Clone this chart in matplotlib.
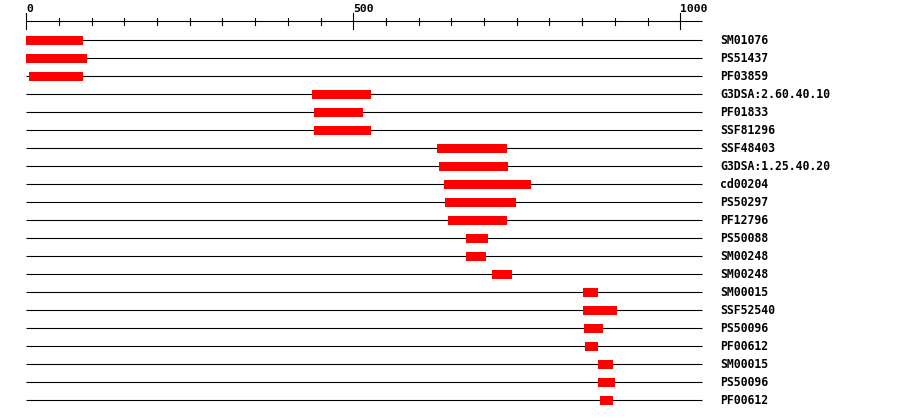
import matplotlib
matplotlib.use("Agg")
import matplotlib.pyplot as plt

labels = ["SM01076", "PS51437", "PF03859", "G3DSA:2.60.40.10", "PF01833", "SSF81296",
          "SSF48403", "G3DSA:1.25.40.20", "cd00204", "PS50297", "PF12796", "PS50088",
          "SM00248", "SM00248", "SM00015", "SSF52540", "PS50096", "PF00612",
          "SM00015", "PS50096", "PF00612"]
starts = [0, 0, 4, 437, 440, 440, 628, 631, 639, 640, 645, 672, 672, 712,
          851, 851, 853, 854, 874, 874, 877]
ends = [86, 93, 86, 527, 515, 527, 735, 737, 772, 749, 735, 706, 703, 743,
        874, 903, 882, 874, 897, 900, 897]
seq_length = 1033
major_ticks = [0, 500, 1000]
minor_step = 50

W, H = 900, 418
fig = plt.figure(figsize=(W / 100, H / 100), dpi=100)
ax = fig.add_axes([0, 0, 1, 1])
px_per_unit = (680.3 - 26.3) / 1000.0
x0 = -26.3 / px_per_unit
x1 = (W - 26.3) / px_per_unit
ax.set_xlim(x0, x1)
# rows at pixel y = 40 + 18*i
ax.set_ylim((H - 40) / 18.0, -40 / 18.0)
ax.axis("off")

lw = 1.1 * 72 / 100
row_h = 9 / 18.0
for i, (lab, s, e) in enumerate(zip(labels, starts, ends)):
    ax.plot([0, seq_length], [i, i], color="black", lw=lw, solid_capstyle="butt")
    ax.add_patch(plt.Rectangle((s, i - row_h / 2), e - s, row_h, facecolor="#ff0000",
                               edgecolor="none", zorder=3))
    ax.text(seq_length + (720 - 701.7) / px_per_unit, i, lab, ha="left", va="center",
            fontsize=8.3, fontweight="bold", family="DejaVu Sans Mono", color="black")

# top scale
axis_y = (21.3 - 40) / 18.0
ax.plot([0, seq_length], [axis_y, axis_y], color="black", lw=lw, solid_capstyle="butt")
for t in range(0, seq_length + 1, minor_step):
    if t in major_ticks:
        y_top, y_bot = (13 - 40) / 18.0, (28.7 - 40) / 18.0
    else:
        y_top, y_bot = (18 - 40) / 18.0, (25 - 40) / 18.0
    ax.plot([t, t], [y_top, y_bot], color="black", lw=lw)
for t in major_ticks:
    ax.text(t, (12.5 - 40) / 18.0, str(t), ha="left", va="baseline",
            fontsize=8.2, fontweight="bold", family="DejaVu Sans Mono", color="black")

fig.savefig("out.png", dpi=100, facecolor="white")
